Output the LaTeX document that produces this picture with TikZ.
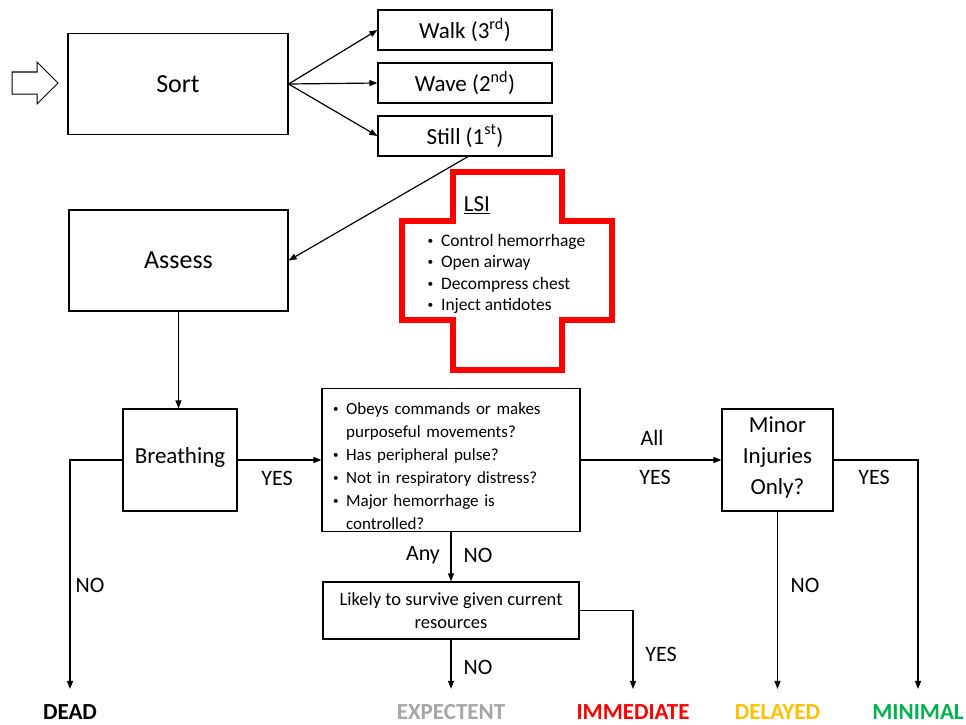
\documentclass[tikz,border=0pt]{standalone}
\usepackage{fontspec}
\setmainfont{Carlito}
\usetikzlibrary{arrows.meta}
\definecolor{expgray}{RGB}{166,166,166}
\definecolor{immred}{RGB}{255,0,0}
\definecolor{delorange}{RGB}{255,192,0}
\definecolor{mingreen}{RGB}{0,176,80}
\newcommand{\bl}{\raisebox{0.12em}{\scalebox{0.65}{\textbullet}}\hspace{0.45em}}
\newcommand{\ind}{\phantom{\bl}}
\begin{document}
\begin{tikzpicture}[x=1pt,y=-1pt, line width=1.2pt,
  box/.style={draw, inner sep=0pt, align=center},
  conn/.style={-{Triangle[length=8pt,width=6pt]}},
  lbl/.style={font=\fontsize{22}{26}\selectfont, inner sep=0pt},
  outcome/.style={font=\fontsize{23}{28}\selectfont\bfseries, inner sep=0pt}]
\useasboundingbox (0,0) rectangle (966,725);
% entry arrow
\draw[line width=1pt] (12,72) -- (37,72) -- (37,62) -- (58,83) -- (37,104) -- (37,94) -- (12,94) -- cycle;
% sort stage
\node[box, minimum width=220, minimum height=101, font=\fontsize{26}{30}\selectfont] (sort) at (178,84) {Sort};
\node[box, minimum width=174, minimum height=40, font=\fontsize{23}{26}\selectfont] (walk) at (465,30) {Walk (3\textsuperscript{rd})};
\node[box, minimum width=174, minimum height=40, font=\fontsize{23}{26}\selectfont] (wave) at (465,83) {Wave (2\textsuperscript{nd})};
\node[box, minimum width=174, minimum height=40, font=\fontsize{23}{26}\selectfont] (still) at (465,136) {Still (1\textsuperscript{st})};
\node[box, minimum width=219, minimum height=101, font=\fontsize{26}{30}\selectfont] (assess) at (178.5,260.5) {Assess};
% LSI cross
\draw[immred, line width=6pt] (453,172) -- (562,172) -- (562,221) -- (612,221) -- (612,320) -- (562,320) -- (562,370) -- (453,370) -- (453,320) -- (402,320) -- (402,221) -- (453,221) -- cycle;
\node[font=\fontsize{23}{26}\selectfont, inner sep=0pt] (lsi) at (477,205) {\underline{LSI}};
\node[anchor=west, align=left, inner sep=0pt, font=\fontsize{17.5}{21.3}\selectfont] (lsilist) at (427,274) {\bl Control hemorrhage\\\bl Open airway\\\bl Decompress chest\\\bl Inject antidotes};
% triage
\node[box, minimum width=114, minimum height=102, font=\fontsize{23}{27}\selectfont] (breath) at (180,460) {Breathing\\[-18pt]\mbox{}};
\node[box, minimum width=258, minimum height=143, inner xsep=11pt, text width=236, align=left, font=\fontsize{17}{23}\selectfont] (crit) at (451,460) {\rule{0pt}{24pt}\bl Obeys commands or makes\\\ind purposeful movements?\\\bl Has peripheral pulse?\\\bl Not in respiratory distress?\\\bl Major hemorrhage is\\\ind controlled?};
\node[box, minimum width=111, minimum height=102, font=\fontsize{23}{31}\selectfont] (minor) at (777.5,460) {Minor\\Injuries\\Only?\\[-22pt]\mbox{}};
\node[box, minimum width=256, minimum height=57, font=\fontsize{18.5}{23}\selectfont] (likely) at (451,610.5) {Likely to survive given current\\resources};
% outcomes
\node[outcome] (dead) at (70,712) {DEAD};
\node[outcome, text=expgray] (expectent) at (451,712) {EXPECTENT};
\node[outcome, text=immred] (immediate) at (633,712) {IMMEDIATE};
\node[outcome, text=delorange] (delayed) at (777.5,712) {DELAYED};
\node[outcome, text=mingreen] (minimal) at (918,712) {MINIMAL};
% connectors
\draw[conn] (sort.east) -- (walk.west);
\draw[conn] (sort.east) -- (wave.west);
\draw[conn] (sort.east) -- (still.west);
\draw[conn] ([xshift=3pt]still.south) -- (assess.east);
\draw[conn] (assess.south) -- (assess.south |- breath.north);
\draw[conn, shorten >=15pt] (breath.west) -| (dead.north);
\draw[conn] (breath.east) -- (crit.west);
\draw[conn] (crit.east) -- (minor.west);
\draw[conn, shorten >=15pt] (minor.east) -| (minimal.north);
\draw[conn, shorten >=15pt] (minor.south) -- (delayed.north);
\draw[conn] (crit.south) -- (likely.north);
\draw[conn, shorten >=15pt] (likely.south) -- (expectent.north);
\draw[conn, shorten >=15pt] (likely.east) -| (immediate.north);
% labels
\node[lbl] (ybreath) at (277,478) {YES};
\node[lbl] (nodead) at (90,585) {NO};
\node[lbl] (lall) at (652,438) {All};
\node[lbl] (yall) at (655,477) {YES};
\node[lbl] (ymin) at (874,477) {YES};
\node[lbl] (ndel) at (805,585) {NO};
\node[lbl] (lany) at (423,555) {Any};
\node[lbl] (nany) at (478,555) {NO};
\node[lbl] (yimm) at (661,654) {YES};
\node[lbl] (nexp) at (478,667) {NO};
\end{tikzpicture}
\end{document}
